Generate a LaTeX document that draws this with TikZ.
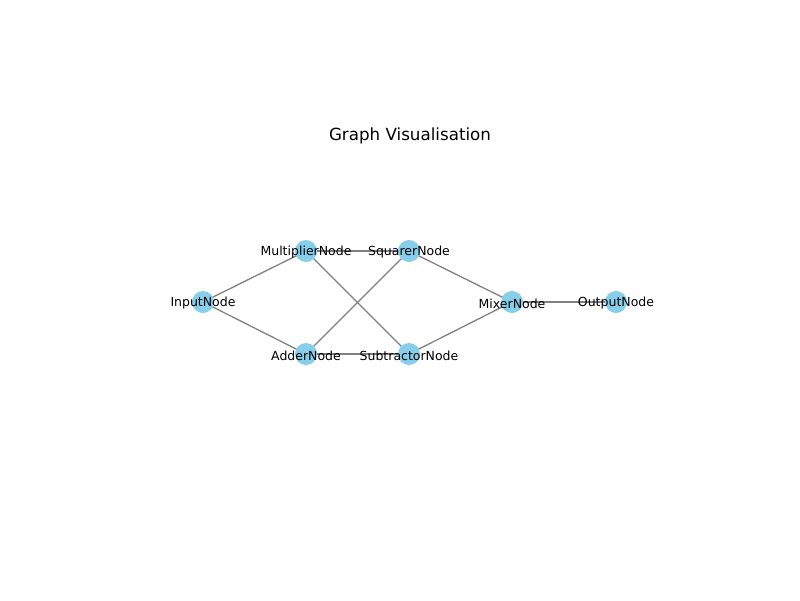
\documentclass[tikz,border=0pt]{standalone}
\usepackage{fontspec}
\setmainfont{DejaVu Sans}
\definecolor{skyblue}{HTML}{87CEEB}
\definecolor{edgegray}{HTML}{808080}
\begin{document}
\begin{tikzpicture}[x=1pt,y=-1pt,
  vtx/.style={circle,fill=skyblue,minimum size=22pt,inner sep=0pt},
  lbl/.style={font=\fontsize{12.5pt}{14pt}\selectfont,inner sep=0pt,yshift=-1.5pt},
  edge/.style={draw=edgegray,line width=1.3pt}]
\useasboundingbox (0,0) rectangle (800,600);
\node[font=\fontsize{16.7pt}{20pt}\selectfont] (title) at (410,135.5) {Graph Visualisation};
\coordinate (pIn) at (203,302);
\coordinate (pMul) at (306,251);
\coordinate (pSq) at (409,251);
\coordinate (pAdd) at (306,354);
\coordinate (pSub) at (409,354);
\coordinate (pMix) at (512,302);
\coordinate (pOut) at (616,302);
\draw[edge] (pIn) -- (pMul);
\draw[edge] (pIn) -- (pAdd);
\draw[edge] (pMul) -- (pSq);
\draw[edge] (pMul) -- (pSub);
\draw[edge] (pAdd) -- (pSq);
\draw[edge] (pAdd) -- (pSub);
\draw[edge] (pSq) -- (pMix);
\draw[edge] (pSub) -- (pMix);
\draw[edge] (pMix) -- (pOut);
\foreach \n in {In,Mul,Sq,Add,Sub,Mix,Out}{\node[vtx] (v\n) at (p\n) {};}
\node[lbl] (lIn) at (pIn) {InputNode};
\node[lbl] (lMul) at (pMul) {MultiplierNode};
\node[lbl] (lSq) at (pSq) {SquarerNode};
\node[lbl] (lAdd) at (pAdd) {AdderNode};
\node[lbl] (lSub) at (pSub) {SubtractorNode};
\node[lbl] (lMix) at (pMix) {MixerNode};
\node[lbl] (lOut) at (pOut) {OutputNode};
\end{tikzpicture}
\end{document}
